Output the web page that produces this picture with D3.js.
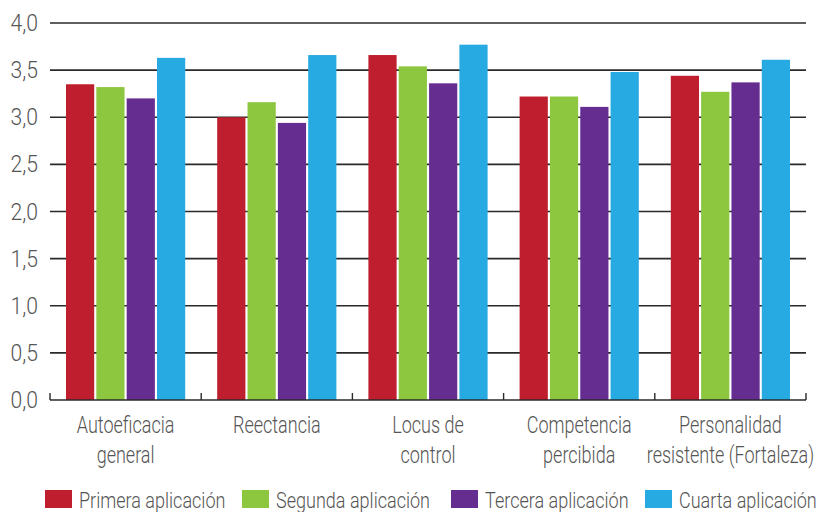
<!DOCTYPE html>
<html>
<head>
<meta charset="utf-8">
<script src="https://cdn.jsdelivr.net/npm/d3@7"></script>
<style>
  html, body { margin: 0; padding: 0; background: #fff; }
  svg { display: block; }
  text { font-family: "Roboto", "Liberation Sans", sans-serif; font-weight: 300; fill: #555; }
</style>
</head>
<body>
<svg id="chart" width="819" height="512"></svg>
<script>
// Scale categories (one or two label lines)
const categories = [
  ["Autoeficacia", "general"],
  ["Reectancia"],
  ["Locus de", "control"],
  ["Competencia", "percibida"],
  ["Personalidad", "resistente (Fortaleza)"]
];
const seriesNames = ["Primera aplicación", "Segunda aplicación", "Tercera aplicación", "Cuarta aplicación"];
const seriesColors = ["#BE1E2D", "#8DC63F", "#662D91", "#27AAE1"];

// Mean score per application, one array per series
const primera = [3.35, 3.00, 3.66, 3.22, 3.44];
const segunda = [3.32, 3.16, 3.54, 3.22, 3.27];
const tercera = [3.20, 2.94, 3.36, 3.11, 3.37];
const cuarta  = [3.63, 3.66, 3.77, 3.48, 3.61];
const seriesValues = [primera, segunda, tercera, cuarta];

const yTicks = [0, 0.5, 1.0, 1.5, 2.0, 2.5, 3.0, 3.5, 4.0];

const svg = d3.select("#chart");
const margin = { left: 50, right: 13, top: 23, bottom: 112 };
const W = 819, H = 512;
const plotW = W - margin.left - margin.right;
const plotH = H - margin.top - margin.bottom;

// narrow lettering: horizontal squeeze applied to text
const squeezeAxis = 0.92, squeezeCat = 0.75, squeezeLegend = 0.82;

const g = svg.append("g").attr("transform", `translate(${margin.left},${margin.top})`);

const x0 = d3.scaleBand().domain(d3.range(categories.length)).range([0, plotW]);
const x1 = d3.scaleBand().domain(d3.range(seriesNames.length)).range([16, x0.bandwidth() - 16]).paddingInner(0.07);
const y = d3.scaleLinear().domain([0, 4]).range([plotH, 0]);

const fmt = d => d.toFixed(1).replace(".", ",");

// Horizontal grid lines
g.append("g")
  .selectAll("line")
  .data(yTicks.filter(t => t > 0))
  .join("line")
  .attr("x1", 0).attr("x2", plotW)
  .attr("y1", d => y(d)).attr("y2", d => y(d))
  .attr("stroke", "#2a2a2a").attr("stroke-width", 1.6);

// Y axis labels
g.append("g").selectAll("text")
  .data(yTicks)
  .join("text")
  .attr("text-anchor", "end")
  .attr("font-size", 23)
  .attr("transform", d => `translate(-12,${y(d) + 8}) scale(${squeezeAxis},1)`)
  .text(fmt);

// Bars
const groups = g.append("g").selectAll("g")
  .data(categories.map((c, i) => i))
  .join("g")
  .attr("transform", i => `translate(${x0(i)},0)`);

groups.selectAll("rect")
  .data(i => seriesValues.map((vals, s) => ({ s, v: vals[i] })))
  .join("rect")
  .attr("x", d => x1(d.s))
  .attr("width", x1.bandwidth())
  .attr("y", d => y(d.v))
  .attr("height", d => plotH - y(d.v))
  .attr("fill", d => seriesColors[d.s]);

// Baseline and category tick marks
g.append("line")
  .attr("x1", 0).attr("x2", plotW)
  .attr("y1", plotH).attr("y2", plotH)
  .attr("stroke", "#2a2a2a").attr("stroke-width", 1.6);

g.append("g").selectAll("line")
  .data(d3.range(categories.length + 1))
  .join("line")
  .attr("x1", i => i * x0.step()).attr("x2", i => i * x0.step())
  .attr("y1", plotH).attr("y2", plotH - 7)
  .attr("stroke", "#2a2a2a").attr("stroke-width", 1.4);

// Category labels
const labels = g.append("g").selectAll("text")
  .data(categories)
  .join("text")
  .attr("text-anchor", "middle")
  .attr("font-size", 24)
  .attr("transform", (d, i) => `translate(${x0(i) + x0.bandwidth() / 2},${plotH + 33}) scale(${squeezeCat},1)`);
labels.selectAll("tspan")
  .data(d => d)
  .join("tspan")
  .attr("x", 0)
  .attr("dy", (d, j) => j === 0 ? 0 : 30)
  .text(d => d);

// Legend
const legendX = [45, 242, 451, 645];
const legend = svg.append("g").selectAll("g")
  .data(seriesNames)
  .join("g")
  .attr("transform", (d, i) => `translate(${legendX[i]},490)`);
legend.append("rect")
  .attr("width", 27).attr("height", 18)
  .attr("fill", (d, i) => seriesColors[i]);
legend.append("text")
  .attr("font-size", 22)
  .attr("transform", `translate(34,18) scale(${squeezeLegend},1)`)
  .text(d => d);
</script>
</body>
</html>
